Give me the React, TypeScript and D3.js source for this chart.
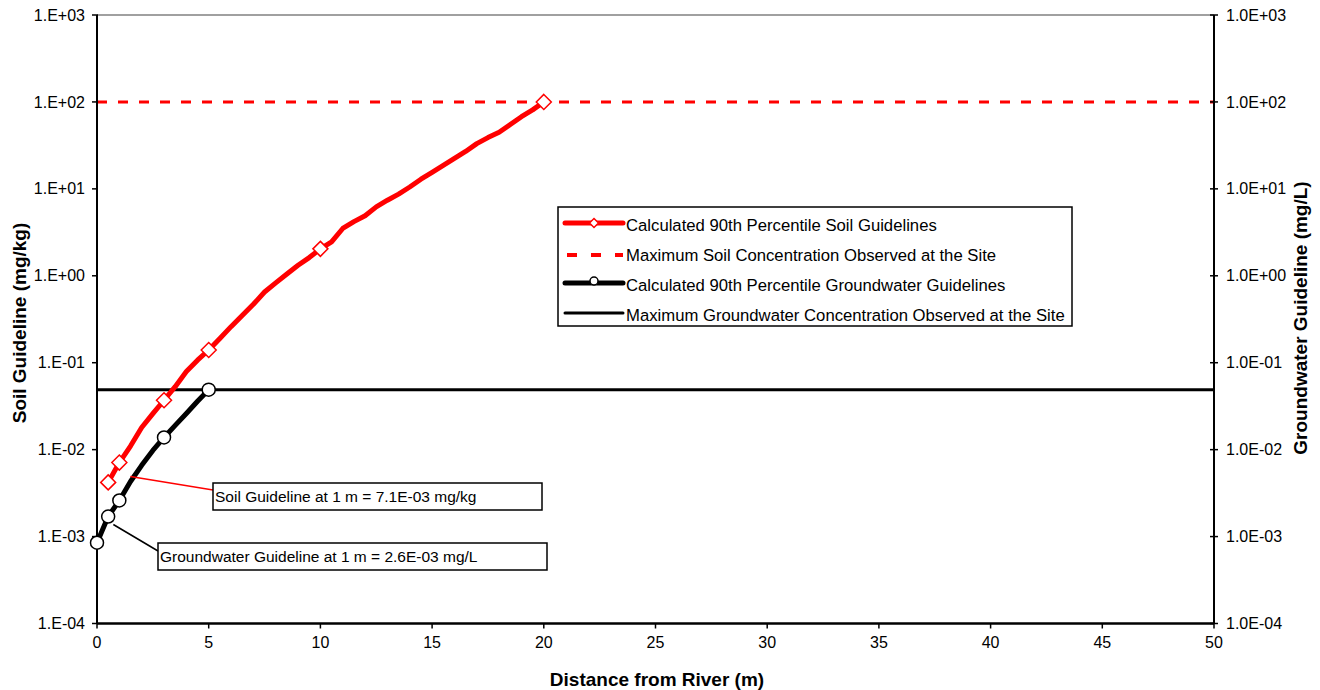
import React from 'react';
import * as d3 from 'd3';

// distance from river (m) and soil guideline (mg/kg)
const soilDistance = [0.5, 1, 1.5, 2, 2.5, 3, 3.5, 4, 4.5, 5, 5.5, 6, 6.5, 7, 7.5, 8, 8.5, 9, 9.5, 10,
  10.5, 11, 11.5, 12, 12.5, 13, 13.5, 14, 14.5, 15, 15.5, 16, 16.5, 17, 17.5, 18, 18.5, 19, 19.5, 20];
const soilGuideline = [0.0042, 0.0071, 0.011, 0.018, 0.026, 0.037, 0.053, 0.079, 0.107, 0.14,
  0.19, 0.26, 0.35, 0.47, 0.65, 0.83, 1.05, 1.32, 1.62, 2.04,
  2.45, 3.5, 4.2, 4.9, 6.2, 7.4, 8.7, 10.5, 12.9, 15.5,
  18.6, 22.4, 26.9, 33.1, 38.9, 44.7, 55, 67.6, 81, 100];
const soilMarkerDistance = [0.5, 1, 3, 5, 10, 20];

// groundwater guideline (mg/L)
const gwDistance = [0, 0.5, 1, 1.5, 2, 2.5, 3, 3.5, 4, 4.5, 5];
const gwGuideline = [0.00085, 0.0017, 0.0026, 0.0043, 0.0066, 0.0098, 0.0138, 0.019, 0.026, 0.036, 0.049];
const gwMarkerDistance = [0, 0.5, 1, 3, 5];

const maxSoil = 100;
const maxGw = 0.049;

const xTicks = [0, 5, 10, 15, 20, 25, 30, 35, 40, 45, 50];
const yTicks = [1e3, 1e2, 1e1, 1e0, 1e-1, 1e-2, 1e-3, 1e-4];
const leftLabels = ['1.E+03', '1.E+02', '1.E+01', '1.E+00', '1.E-01', '1.E-02', '1.E-03', '1.E-04'];
const rightLabels = ['1.0E+03', '1.0E+02', '1.0E+01', '1.0E+00', '1.0E-01', '1.0E-02', '1.0E-03', '1.0E-04'];

const legendItems = [
  'Calculated 90th Percentile Soil Guidelines',
  'Maximum Soil Concentration Observed at the Site',
  'Calculated 90th Percentile Groundwater Guidelines',
  'Maximum Groundwater Concentration Observed at the Site'
];

const FONT = '"Liberation Sans", Arial, sans-serif';

function diamond(cx: number, cy: number, r: number) {
  return `M${cx},${cy - r}L${cx + r},${cy}L${cx},${cy + r}L${cx - r},${cy}Z`;
}

export default function App() {
  const left = 97, right = 1214, top = 15, bottom = 623.5;
  const x = d3.scaleLinear().domain([0, 50]).range([left, right]);
  const y = d3.scaleLog().domain([1e-4, 1e3]).range([bottom, top]);

  const soilPts = soilDistance.map((d, i) => [d, soilGuideline[i]] as [number, number]);
  const gwPts = gwDistance.map((d, i) => [d, gwGuideline[i]] as [number, number]);
  const line = d3.line<[number, number]>().x(d => x(d[0])).y(d => y(d[1]));

  const soilMarkers = soilPts.filter(p => soilMarkerDistance.includes(p[0]));
  const gwMarkers = gwPts.filter(p => gwMarkerDistance.includes(p[0]));

  const lx = 558, ly = 207, lw = 514, lh = 119;

  // annotation anchors, at 1 m
  const soil1 = soilPts.find(p => p[0] === 1)!;
  const gw1 = gwPts.find(p => p[0] === 1)!;

  return (
    <svg width={1320} height={690} style={{ display: 'block', position: 'absolute', left: 0, top: 0, fontFamily: FONT }}>
      <rect x={0} y={0} width={1320} height={690} fill="#fff" />
      {/* top border */}
      <line x1={left} x2={right} y1={top} y2={top} stroke="#808080" strokeWidth={1.5} />

      {/* max lines */}
      <line x1={left} x2={right} y1={y(maxSoil)} y2={y(maxSoil)} stroke="#ff0000" strokeWidth={3} strokeDasharray="10,11" />
      <line x1={left} x2={right} y1={y(maxGw)} y2={y(maxGw)} stroke="#000" strokeWidth={3} />

      {/* axes */}
      <line x1={left} x2={left} y1={top} y2={bottom} stroke="#000" strokeWidth={2} />
      <line x1={right} x2={right} y1={top} y2={bottom} stroke="#000" strokeWidth={2} />
      <line x1={left} x2={right} y1={bottom} y2={bottom} stroke="#000" strokeWidth={2.5} />

      {yTicks.map((t, i) => (
        <g key={'yt' + i}>
          <line x1={left - 5} x2={left + 1} y1={y(t)} y2={y(t)} stroke="#000" strokeWidth={1.5} />
          <text x={left - 12} y={y(t)} dy="0.35em" textAnchor="end" fontSize={16} fill="#000">{leftLabels[i]}</text>
          <line x1={right - 4} x2={right + 4} y1={y(t)} y2={y(t)} stroke="#000" strokeWidth={1.5} />
          <text x={right + 12} y={y(t)} dy="0.35em" textAnchor="start" fontSize={16} fill="#000">{rightLabels[i]}</text>
        </g>
      ))}
      {xTicks.map(t => (
        <g key={'xt' + t}>
          <line x1={x(t)} x2={x(t)} y1={bottom} y2={bottom + 5} stroke="#000" strokeWidth={1.5} />
          <text x={x(t)} y={bottom + 19} dy="0.35em" textAnchor="middle" fontSize={16} fill="#000">{t}</text>
        </g>
      ))}

      {/* curves */}
      <path d={line(gwPts) || ''} fill="none" stroke="#000" strokeWidth={5} strokeLinejoin="round" />
      <path d={line(soilPts) || ''} fill="none" stroke="#ff0000" strokeWidth={5} strokeLinejoin="round" />
      {soilMarkers.map((p, i) => (
        <path key={'sm' + i} d={diamond(x(p[0]), y(p[1]), 7.5)} fill="#fff" stroke="#ff0000" strokeWidth={1.5} />
      ))}
      {gwMarkers.map((p, i) => (
        <circle key={'gm' + i} cx={x(p[0])} cy={y(p[1])} r={6.5} fill="#fff" stroke="#000" strokeWidth={1.5} />
      ))}

      {/* annotations */}
      <line x1={x(soil1[0]) + 11} x2={213} y1={y(soil1[1]) + 14} y2={490} stroke="#ff0000" strokeWidth={1.5} />
      <rect x={213} y={483} width={329} height={27} fill="#fff" stroke="#000" strokeWidth={1.5} />
      <text x={215} y={496.5} dy="0.35em" fontSize={15.5} fill="#000">Soil Guideline at 1 m = 7.1E-03 mg/kg</text>

      <line x1={x(gw1[0]) - 6} x2={158} y1={y(gw1[1]) + 24} y2={551} stroke="#000" strokeWidth={1.5} />
      <rect x={158} y={543} width={389} height={27} fill="#fff" stroke="#000" strokeWidth={1.5} />
      <text x={160} y={556.5} dy="0.35em" fontSize={15.5} fill="#000">Groundwater Guideline at 1 m = 2.6E-03 mg/L</text>

      {/* legend */}
      <rect x={lx} y={ly} width={lw} height={lh} fill="#fff" stroke="#000" strokeWidth={1.5} />
      {legendItems.map((label, i) => {
        const cy = ly + 18 + i * 30;
        const x1 = lx + 7, x2 = lx + 65, mid = (x1 + x2) / 2;
        return (
          <g key={'lg' + i}>
            {i === 0 && <>
              <line x1={x1} x2={x2} y1={cy - 2} y2={cy - 2} stroke="#ff0000" strokeWidth={5} strokeLinecap="round" />
              <path d={diamond(mid, cy - 2, 4.5)} fill="#fff" stroke="#ff0000" strokeWidth={1.5} />
            </>}
            {i === 1 && <line x1={x1 + 2} x2={x2} y1={cy} y2={cy} stroke="#ff0000" strokeWidth={4} strokeDasharray="10,14" />}
            {i === 2 && <>
              <line x1={x1} x2={x2} y1={cy - 2} y2={cy - 2} stroke="#000" strokeWidth={5} strokeLinecap="round" />
              <circle cx={mid} cy={cy - 4} r={4} fill="#fff" stroke="#000" strokeWidth={1.5} />
            </>}
            {i === 3 && <line x1={x1} x2={x2} y1={cy - 2} y2={cy - 2} stroke="#000" strokeWidth={3} strokeLinecap="round" />}
            <text x={lx + 68} y={cy} dy="0.35em" fontSize={16.7} fill="#000">{label}</text>
          </g>
        );
      })}

      {/* axis titles */}
      <text transform="translate(19,323) rotate(-90)" textAnchor="middle" dy="0.35em" fontSize={19} fontWeight="bold" fill="#000">Soil Guideline (mg/kg)</text>
      <text transform="translate(1300,318) rotate(-90)" textAnchor="middle" dy="0.35em" fontSize={19} fontWeight="bold" fill="#000">Groundwater Guideline (mg/L)</text>
      <text x={657} y={679} textAnchor="middle" dy="0.35em" fontSize={19} fontWeight="bold" fill="#000">Distance from River (m)</text>
    </svg>
  );
}
